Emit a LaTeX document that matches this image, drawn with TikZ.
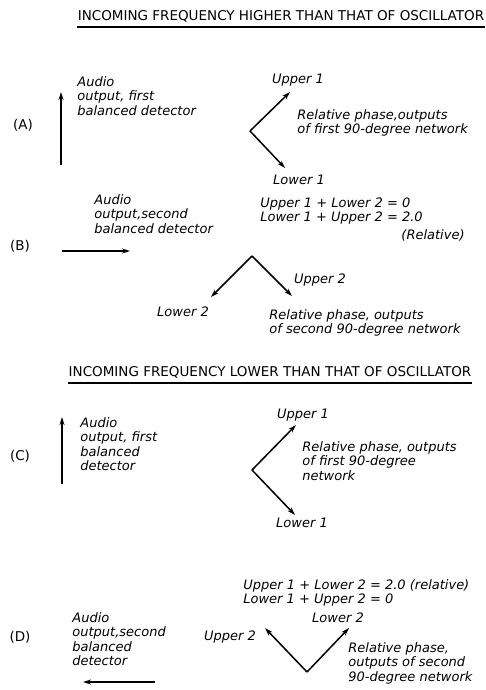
\documentclass[tikz,border=0pt]{standalone}
\usepackage{fontspec}
\setmainfont{DejaVu Sans}
\usetikzlibrary{arrows.meta,positioning}

\begin{document}
\begin{tikzpicture}[x=1pt,y=-1pt,thick,
  vec/.style={line width=1.5pt,-{Stealth[length=8pt,width=5pt]}},
  hand/.style={font=\fontsize{13}{14.5}\selectfont\itshape,inner sep=0pt,align=left},
  caption/.style={font=\fontsize{13.5}{15}\selectfont,inner sep=0pt},
  tag/.style={font=\fontsize{13.5}{15}\selectfont,inner sep=0pt}]
 \useasboundingbox (0,0) rectangle (486,690);
 \node [caption] (higher) at (281,16) {INCOMING FREQUENCY HIGHER THAN THAT OF OSCILLATOR};
 \draw [line width=1.6pt] ([yshift=-5pt]higher.south west) -- ([yshift=-5pt]higher.south east);

 \node [tag] (tagA) at (23,125) {(A)};
 \coordinate (arrAfoot) at (61,165);
 \coordinate [above=73pt of arrAfoot] (arrAhead);
 \draw [vec] (arrAfoot) -- (arrAhead);
 \node [hand,anchor=north west] (audioA) at (77,76) {Audio\\output, first\\balanced detector};
 \coordinate (apexA) at (250,131);
 \coordinate [above right=39pt and 40pt of apexA] (upA);
 \coordinate [below right=37pt and 35pt of apexA] (loA);
 \draw [vec] (apexA) -- (upA);
 \draw [vec] (apexA) -- (loA);
 \node [hand] (upperA) at (298,80) {Upper 1};
 \node [hand] (lowerA) at (299,180) {Lower 1};
 \node [hand,anchor=north west] (phaseA) at (297,109) {Relative phase,outputs\\of first 90-degree network};

 \node [hand,anchor=north west] (audioB) at (94,194) {Audio\\output,second\\balanced detector};
 \node [tag] (tagB) at (20,246) {(B)};
 \coordinate (arrBtail) at (62,251);
 \coordinate [right=68pt of arrBtail] (arrBhead);
 \draw [vec] (arrBtail) -- (arrBhead);
 \node [hand,anchor=north west] (sumB) at (260,197) {Upper 1 + Lower 2 = 0\\Lower 1 + Upper 2 = 2.0};
 \node [hand,anchor=north east] (relB) at (465,229) {(Relative)};
 \coordinate (apexB) at (252,256);
 \coordinate [below left=41pt and 41pt of apexB] (loB);
 \coordinate [below right=40pt and 40pt of apexB] (upB);
 \draw [vec] (apexB) -- (loB);
 \draw [vec] (apexB) -- (upB);
 \node [hand] (upperB) at (320,280) {Upper 2};
 \node [hand] (lowerB) at (183,312) {Lower 2};
 \node [hand,anchor=north west] (phaseB) at (269,309) {Relative phase, outputs\\of second 90-degree network};

 \node [caption] (lower) at (270,372) {INCOMING FREQUENCY LOWER THAN THAT OF OSCILLATOR};
 \draw [line width=1.6pt] ([yshift=-5pt]lower.south west) -- ([yshift=-5pt]lower.south east);

 \node [tag] (tagC) at (20,456) {(C)};
 \coordinate (arrCfoot) at (62,484);
 \coordinate [above=67pt of arrCfoot] (arrChead);
 \draw [vec] (arrCfoot) -- (arrChead);
 \node [hand,anchor=north west] (audioC) at (80,417) {Audio\\output, first\\balanced\\detector};
 \coordinate (apexC) at (252,470);
 \coordinate [above right=45pt and 44pt of apexC] (upC);
 \coordinate [below right=45pt and 43pt of apexC] (loC);
 \draw [vec] (apexC) -- (upC);
 \draw [vec] (apexC) -- (loC);
 \node [hand] (upperC) at (303,415) {Upper 1};
 \node [hand] (lowerC) at (302,523) {Lower 1};
 \node [hand,anchor=north west] (phaseC) at (302,441) {Relative phase, outputs\\of first 90-degree\\network};
 \node [hand,anchor=north west] (sumC) at (243,579) {Upper 1 + Lower 2 = 2.0 (relative)\\Lower 1 + Upper 2 = 0};

 \node [tag] (tagD) at (20,637) {(D)};
 \node [hand,anchor=north west] (audioD) at (72,612) {Audio\\output,second\\balanced\\detector};
 \coordinate (arrDtail) at (155,682);
 \coordinate [left=72pt of arrDtail] (arrDhead);
 \draw [vec] (arrDtail) -- (arrDhead);
 \coordinate (apexD) at (307,672);
 \coordinate [above left=44pt and 42pt of apexD] (upD);
 \coordinate [above right=44pt and 42pt of apexD] (loD);
 \draw [vec] (apexD) -- (upD);
 \draw [vec] (apexD) -- (loD);
 \node [hand] (upperD) at (230,637) {Upper 2};
 \node [hand] (lowerD) at (338,618) {Lower 2};
 \node [hand,anchor=north west] (phaseD) at (348,642) {Relative phase,\\outputs of second\\90-degree network};
\end{tikzpicture}
\end{document}
